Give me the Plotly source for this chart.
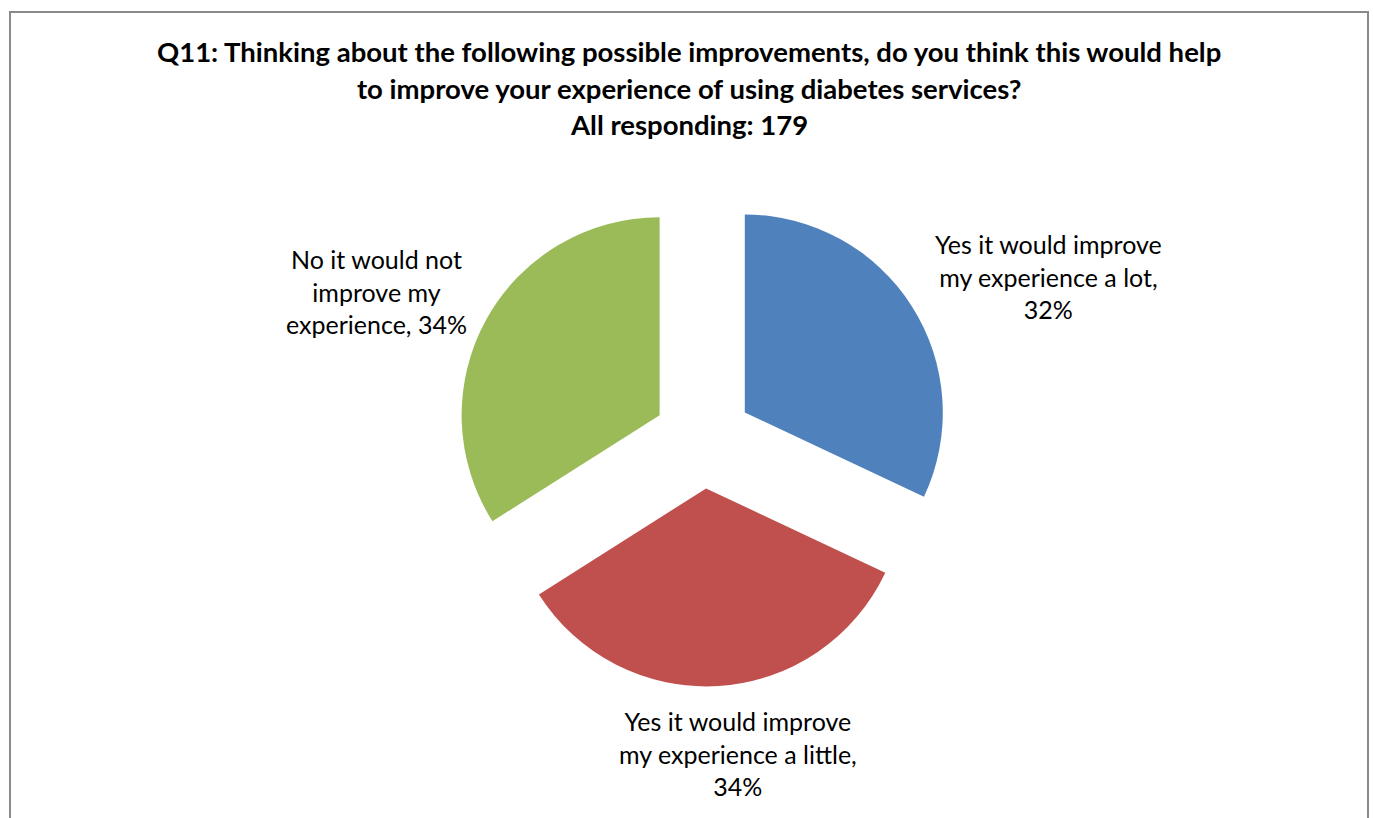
import plotly.graph_objects as go

categories = [
    "Yes it would improve my experience a lot",
    "Yes it would improve my experience a little",
    "No it would not improve my experience",
]
values = [32, 34, 34]
colors = ["#4F81BD", "#C0504D", "#9BBB59"]
title_lines = [
    "Q11: Thinking about the following possible improvements, do you think this would help",
    "to improve your experience of using diabetes services?",
    "All responding: 179",
]
label_lines = [
    ["Yes it would improve", "my experience a lot,", "32%"],
    ["Yes it would improve", "my experience a little,", "34%"],
    ["No it would not", "improve my", "experience, 34%"],
]

W, H = 1373, 818
FONT = "Lato"

fig = go.Figure()
fig.add_trace(go.Pie(
    labels=categories,
    values=values,
    marker=dict(colors=colors, line=dict(width=0)),
    pull=[0.25, 0.25, 0.25],
    sort=False,
    direction="clockwise",
    rotation=0,
    textinfo="none",
    hoverinfo="label+percent",
    showlegend=False,
    domain=dict(x=[455.5 / W, 950.5 / W], y=[131.5 / H, 626.5 / H]),
))

annotations = []
title_y = [51, 88, 124]
for t, yy in zip(title_lines, title_y):
    annotations.append(dict(
        text="<b>%s</b>" % t, x=689.5 / W, y=1 - yy / H, xref="paper", yref="paper",
        xanchor="center", yanchor="middle", showarrow=False,
        font=dict(family=FONT, size=27.5, color="#000000"),
    ))

label_pos = [(1048, 276), (738, 753), (376, 291)]
for lines, (px, py) in zip(label_lines, label_pos):
    annotations.append(dict(
        text="<br>".join(lines), x=px / W, y=1 - py / H, xref="paper", yref="paper",
        xanchor="center", yanchor="middle", showarrow=False, align="center",
        font=dict(family=FONT, size=25, color="#000000"),
    ))

fig.update_layout(
    width=W, height=H,
    margin=dict(l=0, r=0, t=0, b=0),
    paper_bgcolor="#FFFFFF",
    plot_bgcolor="#FFFFFF",
    annotations=annotations,
    shapes=[dict(type="rect", xref="paper", yref="paper",
                 x0=10 / W, x1=1368 / W, y0=-0.05, y1=1 - 12 / H,
                 line=dict(color="#8A8A8A", width=2), fillcolor="rgba(0,0,0,0)")],
)

fig.write_html("out.html")
